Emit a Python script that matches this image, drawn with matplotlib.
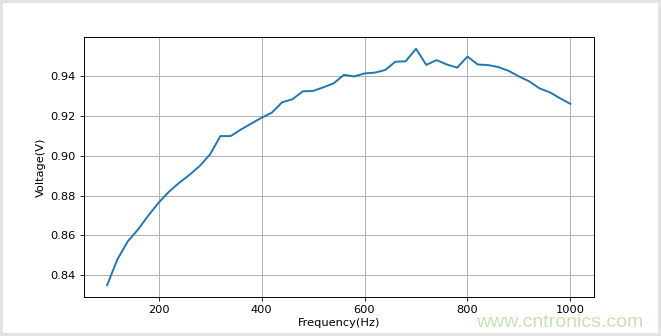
# Voltage vs frequency sweep
import numpy as np
import matplotlib.pyplot as plt

freq = np.arange(100, 1001, 20)
voltage = [0.835, 0.848, 0.857, 0.863, 0.870, 0.8765, 0.882, 0.8865, 0.8905, 0.895,
           0.9008, 0.910, 0.910, 0.9133, 0.9163, 0.9192, 0.9218, 0.927, 0.9285, 0.9325,
           0.9327, 0.9345, 0.9365, 0.9408, 0.9400, 0.9415, 0.9419, 0.9432, 0.9474, 0.9476,
           0.9539, 0.9458, 0.9482, 0.9460, 0.9444, 0.9500, 0.9460, 0.9457, 0.9447, 0.9428,
           0.9400, 0.9375, 0.9340, 0.9320, 0.9290, 0.9262]

fig = plt.figure(figsize=(6.61, 3.36), dpi=100)
fig.patch.set_edgecolor('#e2e2e2')
fig.patch.set_linewidth(3)
ax = fig.add_axes([0.127, 0.116, 0.771, 0.774])

ax.plot(freq, voltage, color='#2277b0', linewidth=1.4)
ax.grid(True, color='#b0b0b0', linewidth=0.7)
ax.set_yticks([0.84, 0.86, 0.88, 0.90, 0.92, 0.94])
ax.set_xticks([200, 400, 600, 800, 1000])
ax.tick_params(labelsize=8.2, length=2.6, width=0.6)
for s in ax.spines.values():
    s.set_linewidth(0.7)
ax.set_xlabel("Frequency(Hz)", fontsize=8.2, labelpad=2)
ax.set_ylabel("Voltage(V)", fontsize=8.2, labelpad=3)

# watermark
fig.text(0.846, 0.04, "www.cntronics.com", color='#c9e2b3', fontsize=14,
         family='Liberation Sans', ha='center', va='center')

fig.savefig("out.png", dpi=100)
